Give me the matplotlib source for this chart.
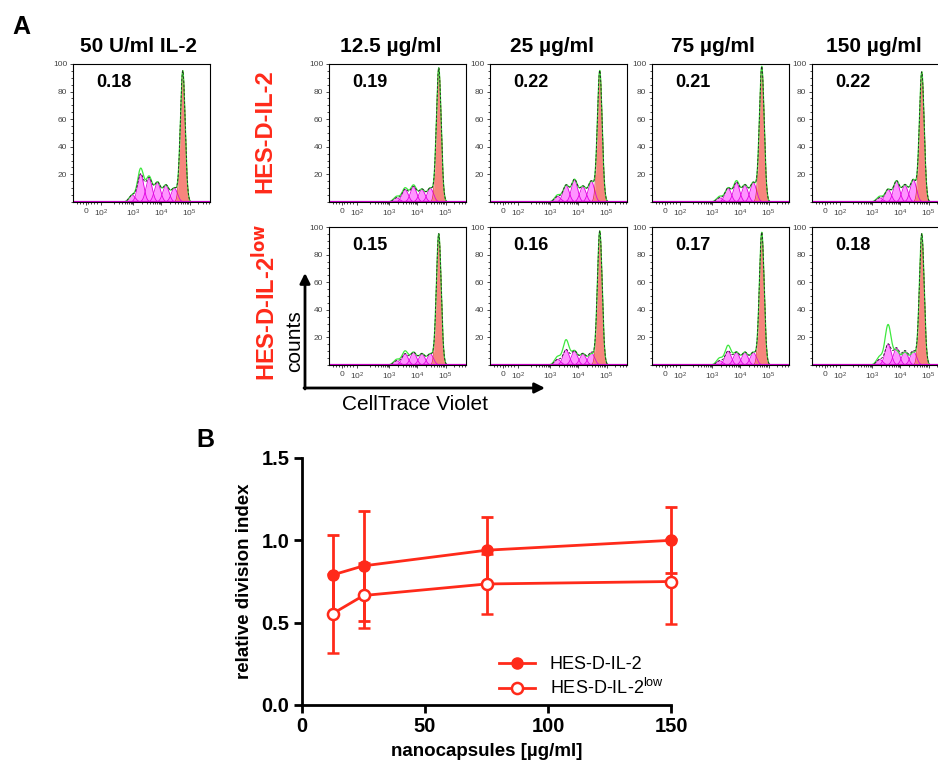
import matplotlib.pyplot as plt
import numpy as np
from matplotlib.lines import Line2D

plt.rcParams['font.family'] = ['Liberation Sans', 'DejaVu Sans']
plt.rcParams['mathtext.default'] = 'regular'

RED = '#ff2a1a'

# --- panel A: CellTrace Violet proliferation histograms ---
col_titles = ['50 U/ml IL-2', '12.5 µg/ml', '25 µg/ml', '75 µg/ml', '150 µg/ml']
row_labels = ['HES-D-IL-2', 'HES-D-IL-2$^{\\mathbf{low}}$']

il2_index = '0.18'
row1_index = ['0.19', '0.22', '0.21', '0.22']
row2_index = ['0.15', '0.16', '0.17', '0.18']

# peak positions in decades (parent + daughter generations)
parent_pos = 4.76
gen_pos = [4.46, 4.16, 3.86, 3.56, 3.26, 2.96]

# parent peak height (% of max)
il2_parent = 95
row1_parent = [97, 95, 98, 94]
row2_parent = [95, 97, 96, 95]

# fitted generation peak heights (pink)
il2_gens = [10, 12, 14, 17, 20, 5]
row1_gens = [[10, 9, 11, 9, 3, 0],
             [15, 11, 16, 12, 4, 0],
             [14, 12, 14, 10, 3, 0],
             [16, 12, 15, 9, 3, 0]]
row2_gens = [[8, 8, 9, 8, 3, 0],
             [9, 8, 10, 11, 4, 0],
             [9, 9, 9, 10, 3, 0],
             [10, 10, 12, 15, 4, 0]]

# model curve heights (green)
il2_model = [10, 12, 14, 18, 24, 5]
row1_model = [[10, 9, 12, 10, 4, 0],
              [15, 11, 16, 12, 5, 0],
              [14, 12, 15, 10, 4, 0],
              [16, 12, 15, 9, 4, 0]]
row2_model = [[8, 8, 9, 10, 4, 0],
              [8, 8, 10, 18, 6, 0],
              [9, 9, 9, 14, 5, 0],
              [9, 9, 10, 29, 6, 0]]

# --- panel B: relative division index ---
conc = [12.5, 25, 75, 150]
rdi_hes = [0.79, 0.845, 0.94, 1.0]
sd_hes = [0.24, 0.335, 0.20, 0.20]
rdi_low = [0.555, 0.665, 0.735, 0.75]
sd_low = [0.24, 0.195, 0.185, 0.26]

W, H = 938, 765
fig = plt.figure(figsize=(W / 100, H / 100), dpi=100)


def px_axes(left, top, width, height):
    return fig.add_axes([left / W, 1 - (top + height) / H, width / W, height / H])


def peak(x, mu, h, s):
    return h * np.exp(-0.5 * ((x - mu) / s) ** 2)


def histogram(ax, parent, gens, model, index):
    x = np.linspace(0.85, 5.73, 900)
    total = np.zeros_like(x)
    mod = np.zeros_like(x)
    for mu, h, m in zip(gen_pos, gens, model):
        mod += peak(x, mu, m, 0.11)
        if h <= 0:
            continue
        y = peak(x, mu, h, 0.11)
        ax.fill_between(x, y, color='#ff70ff', alpha=0.75, lw=0)
        ax.plot(x, y, color='#e000e0', lw=0.6)
        total += y
    yp = peak(x, parent_pos, parent, 0.085)
    ax.fill_between(x, yp, color='#f7857d', lw=0)
    ax.plot(x, yp, color='#d83030', lw=0.5)
    ax.plot(x, mod + yp, color='#3ee83e', lw=0.9)
    ax.plot(x, total + yp, color='#222222', lw=0.6, dashes=(3, 2))
    ax.axhline(0, color='#cc00cc', lw=1.6)
    ax.set_xlim(0.85, 5.73)
    ax.set_ylim(0, 100)
    ax.set_xticks([1.3, 1.85, 3, 4, 5])
    ax.set_xticklabels(['0', '$10^2$', '$10^3$', '$10^4$', '$10^5$'])
    minors = [1.0, 1.1, 1.2, 1.4, 1.5, 1.6, 1.7]
    for d in [2, 3, 4, 5]:
        minors += [d + np.log10(k) for k in range(2, 10) if d + np.log10(k) < 5.73]
    ax.set_xticks(minors, minor=True)
    ax.set_yticks([20, 40, 60, 80, 100])
    ax.set_yticks(np.arange(0, 101, 5), minor=True)
    ax.tick_params(which='both', direction='out', length=2.5, width=0.5,
                   labelsize=6, labelcolor='#444444', pad=1.5)
    ax.tick_params(which='minor', length=1.5)
    for sp in ax.spines.values():
        sp.set_linewidth(0.8)
    ax.text(0.17, 0.83, index, transform=ax.transAxes, fontsize=13,
            fontweight='bold')


col_left = [73, 329, 490, 652, 812]
pw, ph = 137, 138

ax = px_axes(col_left[0], 64, pw, ph)
histogram(ax, il2_parent, il2_gens, il2_model, il2_index)
for i in range(4):
    ax = px_axes(col_left[i + 1], 64, pw, ph)
    histogram(ax, row1_parent[i], row1_gens[i], row1_model[i], row1_index[i])
    ax = px_axes(col_left[i + 1], 227, pw, ph)
    histogram(ax, row2_parent[i], row2_gens[i], row2_model[i], row2_index[i])

# --- panel B ---
axb = px_axes(302, 458, 369, 247)
axb.errorbar(conc, rdi_hes, yerr=sd_hes, color=RED, marker='o', ms=8, lw=2,
             elinewidth=2, capsize=4, capthick=2, clip_on=False)
axb.errorbar(conc, rdi_low, yerr=sd_low, color=RED, marker='o', ms=8, lw=2,
             mfc='white', mec=RED, mew=1.8, elinewidth=2, capsize=4,
             capthick=2, clip_on=False)
axb.set_xlim(0, 150)
axb.set_ylim(0, 1.5)
axb.set_xticks([0, 50, 100, 150])
axb.set_yticks([0, 0.5, 1.0, 1.5])
axb.set_yticklabels(['0.0', '0.5', '1.0', '1.5'])
axb.spines[['top', 'right']].set_visible(False)
axb.spines[['left', 'bottom']].set_linewidth(2)
axb.tick_params(direction='out', length=6, width=2, labelsize=14.5, pad=3)
for t in axb.get_xticklabels() + axb.get_yticklabels():
    t.set_fontweight('bold')
axb.set_xlabel('nanocapsules [µg/ml]', fontsize=13.5, fontweight='bold',
               labelpad=5)
axb.set_ylabel('relative division index', fontsize=13.5, fontweight='bold',
               labelpad=6)
handles = [Line2D([], [], color=RED, marker='o', ms=8, lw=2),
           Line2D([], [], color=RED, marker='o', ms=8, lw=2, mfc='white',
                  mew=1.8)]
axb.legend(handles, ['HES-D-IL-2', 'HES-D-IL-2$^{low}$'], loc='upper left',
           bbox_to_anchor=(0.51, 0.235), frameon=False, fontsize=13,
           handlelength=2, handletextpad=0.8, labelspacing=0.3, borderpad=0)

# --- overlay for labels and arrows (pixel coordinates) ---
ov = fig.add_axes([0, 0, 1, 1])
ov.set_xlim(0, W)
ov.set_ylim(H, 0)
ov.axis('off')
ov.patch.set_visible(False)

ov.text(12, 27, 'A', fontsize=18, fontweight='bold', va='center')
ov.text(196, 440, 'B', fontsize=18, fontweight='bold', va='center')
title_x = [139, 391, 552, 713, 874]
for x, t in zip(title_x, col_titles):
    ov.text(x, 46, t, fontsize=15, fontweight='bold', ha='center', va='center')
ov.text(265, 131, row_labels[0], fontsize=17, fontweight='bold', color=RED,
        rotation=90, ha='center', va='center')
ov.text(265, 302, row_labels[1], fontsize=17, fontweight='bold', color=RED,
        rotation=90, ha='center', va='center')

ov.annotate('', xy=(305, 273), xytext=(305, 389),
            arrowprops=dict(arrowstyle='-|>', color='black', lw=2,
                            mutation_scale=15, shrinkA=0, shrinkB=0))
ov.annotate('', xy=(545, 388), xytext=(304, 388),
            arrowprops=dict(arrowstyle='-|>', color='black', lw=2,
                            mutation_scale=15, shrinkA=0, shrinkB=0))
ov.text(295, 341, 'counts', fontsize=15, rotation=90, ha='center', va='center')
ov.text(415, 404, 'CellTrace Violet', fontsize=15, ha='center', va='center')

fig.savefig('out.png', dpi=100)
